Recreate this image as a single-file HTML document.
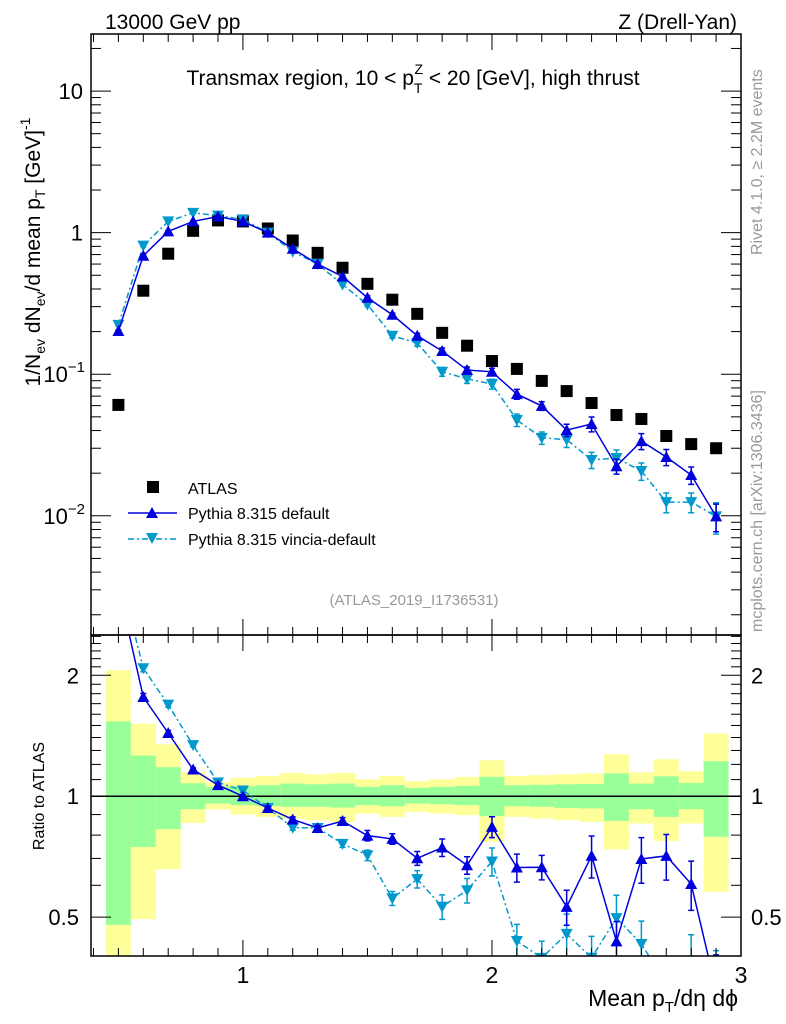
<!DOCTYPE html>
<html><head><meta charset="utf-8"><style>
body{margin:0;background:#fff}
svg{display:block;font-family:"Liberation Sans",Arial,sans-serif}
</style></head><body>
<svg id="chart" width="786" height="1024" viewBox="0 0 786 1024">
<rect x="0" y="0" width="786" height="1024" fill="#fff"/>
<g id="ratioBands"></g>
<g id="marks"></g>
<g id="axes"></g>
<text x="105" y="29" font-size="21">13000 GeV pp</text>
<text x="737" y="29" font-size="21" text-anchor="end">Z (Drell-Yan)</text>
<text x="413" y="85" font-size="21" text-anchor="middle">Transmax region, 10 &lt; p<tspan font-size="14" dy="8">T</tspan><tspan font-size="14" dx="-8" dy="-19">Z</tspan><tspan dy="11"> &lt; 20 [GeV], high thrust</tspan></text>
<text transform="translate(762,255) rotate(-90)" font-size="16" fill="#999">Rivet 4.1.0, ≥ 2.2M events</text>
<text transform="translate(762,632) rotate(-90)" font-size="16" fill="#999">mcplots.cern.ch [arXiv:1306.3436]</text>
<text x="414" y="605" font-size="15" fill="#999" text-anchor="middle">(ATLAS_2019_I1736531)</text>
<text transform="translate(40,252) rotate(-90)" font-size="21" text-anchor="middle">1/N<tspan font-size="14" dy="5">ev</tspan><tspan dy="-5"> dN</tspan><tspan font-size="14" dy="5">ev</tspan><tspan dy="-5">/d mean p</tspan><tspan font-size="14" dy="5">T</tspan><tspan dy="-5"> [GeV]</tspan><tspan font-size="14" dy="-10">-1</tspan></text>
<text transform="translate(44,796) rotate(-90)" font-size="16" text-anchor="middle">Ratio to ATLAS</text>
<text x="738" y="1006" font-size="23" text-anchor="end">Mean p<tspan font-size="15" dy="6">T</tspan><tspan dy="-6">/dη dϕ</tspan></text>
<g>
<rect x="147" y="481" width="12" height="12" fill="#000"/>
<text x="188" y="494" font-size="16">ATLAS</text>
<line x1="128" y1="513" x2="177" y2="513" stroke="#0000dd" stroke-width="1.5"/>
<path d="M146,518 L158,518 L152,507 Z" fill="#0000dd"/>
<text x="188" y="519" font-size="16">Pythia 8.315 default</text>
<line x1="128" y1="539" x2="177" y2="539" stroke="#0099cc" stroke-width="1.5" stroke-dasharray="6,3,2,3"/>
<path d="M146,533 L158,533 L152,544 Z" fill="#0099cc"/>
<text x="188" y="545" font-size="16">Pythia 8.315 vincia-default</text>
</g>
</svg>
<script>
const xs = [0.5,0.6,0.7,0.8,0.9,1.0,1.1,1.2,1.3,1.4,1.5,1.6,1.7,1.8,1.9,2.0,2.1,2.2,2.3,2.4,2.5,2.6,2.7,2.8,2.9];
const atlas = [0.0607,0.389,0.71,1.03,1.22,1.2,1.07,0.88,0.72,0.565,0.435,0.336,0.267,0.196,0.159,0.124,0.109,0.0897,0.076,0.0626,0.0515,0.0483,0.0366,0.0321,0.030];
const pyDefault = [0.202,0.687,1.02,1.2,1.3,1.2,1.0,0.77,0.60,0.49,0.347,0.263,0.187,0.146,0.107,0.104,0.0724,0.0597,0.0403,0.0445,0.0224,0.0337,0.026,0.0194,0.0099];
const pyVincia = [0.223,0.81,1.2,1.38,1.32,1.24,1.0,0.735,0.60,0.43,0.31,0.187,0.166,0.104,0.0927,0.0853,0.0475,0.0355,0.0345,0.0248,0.0256,0.0207,0.0125,0.0125,0.0099];
const errDefault = [0.02,0.02,0.015,0.01,0.01,0.01,0.01,0.015,0.015,0.02,0.03,0.03,0.04,0.05,0.05,0.06,0.08,0.07,0.1,0.12,0.12,0.13,0.13,0.14,0.22];
const errVincia = [0.02,0.02,0.015,0.01,0.01,0.01,0.01,0.015,0.015,0.02,0.03,0.04,0.05,0.07,0.07,0.08,0.1,0.1,0.12,0.13,0.14,0.14,0.16,0.16,0.25];
const yellowUp = [2.06,1.516,1.347,1.149,1.085,1.111,1.123,1.143,1.134,1.143,1.102,1.123,1.09,1.102,1.117,1.229,1.123,1.128,1.134,1.139,1.272,1.147,1.236,1.154,1.432];
const greenUp = [1.536,1.262,1.181,1.077,1.055,1.059,1.065,1.075,1.071,1.075,1.055,1.065,1.049,1.055,1.061,1.117,1.065,1.067,1.071,1.073,1.139,1.075,1.121,1.079,1.222];
const greenDn = [0.478,0.747,0.828,0.928,0.959,0.95,0.946,0.941,0.941,0.937,0.95,0.944,0.959,0.955,0.95,0.892,0.944,0.941,0.935,0.932,0.868,0.928,0.888,0.928,0.792];
const yellowDn = [0.35,0.494,0.658,0.858,0.927,0.9,0.888,0.88,0.872,0.863,0.905,0.888,0.914,0.905,0.897,0.77,0.888,0.88,0.872,0.863,0.737,0.855,0.773,0.855,0.578];
const mainTicks = [0.01,0.1,1,10];
const mainTickLabels = ["10","10","1","10"];
const mainTickExp = ["−2","−1","",""];
const ratioTicks = [0.5,1,2];
const ratioTickLabels = ["0.5","1","2"];
const xTicks = [1,2,3];
const xTickLabels = ["1","2","3"];

const NS="http://www.w3.org/2000/svg";
const L=91,R=741,T=34,M=635,B=956;
const X0=0.39,X1=3.0;
const YT=Math.log10(25.3),YB=-2.842;
const RT=Math.log2(2.52),RB=Math.log2(0.40);
const sx=v=>L+(v-X0)/(X1-X0)*(R-L);
const sy=v=>T+(YT-Math.log10(v))/(YT-YB)*(M-T);
const sr=v=>M+(RT-Math.log2(v))/(RT-RB)*(B-M);
function mk(tag,attrs,parent){const e=document.createElementNS(NS,tag);for(const k in attrs)e.setAttribute(k,attrs[k]);parent.appendChild(e);return e;}
const marks=document.getElementById('marks'),axes=document.getElementById('axes'),bands=document.getElementById('ratioBands');

const hw=0.05;
for(let i=0;i<xs.length;i++){
  const x1=sx(xs[i]-hw),x2=sx(xs[i]+hw);
  const cl=v=>Math.min(B,Math.max(M,sr(v)));
  let r=mk('rect',{x:x1,y:cl(yellowUp[i]),width:x2-x1,height:cl(yellowDn[i])-cl(yellowUp[i]),fill:'#ffff99'},bands);
  
  
  r=mk('rect',{x:x1,y:cl(greenUp[i]),width:x2-x1,height:cl(greenDn[i])-cl(greenUp[i]),fill:'#99ff99'},bands);
  
  
}
let ln=mk('line',{x1:L,y1:sr(1),x2:R,y2:sr(1),stroke:'#000','stroke-width':1.5},bands);



const defs=mk('defs',{},document.getElementById('chart'));
const c1=mk('clipPath',{id:'cm'},defs);mk('rect',{x:L,y:T,width:R-L,height:M-T},c1);
const c2=mk('clipPath',{id:'cr'},defs);mk('rect',{x:L,y:M,width:R-L,height:B-M},c2);
const gm=mk('g',{'clip-path':'url(#cm)'},marks);


const gr=mk('g',{'clip-path':'url(#cr)'},marks);



function series(g,vals,errs,yf,color,dash,up,name){
  const pts=xs.map((x,i)=>sx(x)+','+yf(vals[i])).join(' ');
  const pl=mk('polyline',{points:pts,fill:'none',stroke:color,'stroke-width':1.5},g);
  if(dash)pl.setAttribute('stroke-dasharray',dash);
  
  
  xs.forEach((x,i)=>{
    const cx=sx(x),cy=yf(vals[i]);
    const e1=yf(vals[i]*(1+errs[i])),e2=yf(vals[i]*(1-errs[i]));
    const eb=mk('path',{d:`M${cx},${e1}V${e2}M${cx-3},${e1}H${cx+3}M${cx-3},${e2}H${cx+3}`,stroke:color,'stroke-width':1.5,fill:'none'},g);
    
    
    const d=up?`M${cx-6},${cy+5}L${cx+6},${cy+5}L${cx},${cy-6}Z`:`M${cx-6},${cy-5}L${cx+6},${cy-5}L${cx},${cy+6}Z`;
    const p=mk('path',{d:d,fill:color},g);
    
    
  });
}
xs.forEach((x,i)=>{
  const r=mk('rect',{x:sx(x)-6,y:sy(atlas[i])-6,width:12,height:12,fill:'#000'},gm);
  
  
});
series(gm,pyVincia,errVincia,sy,'#0099cc','6,3,2,3',false,'vincia');
series(gm,pyDefault,errDefault,sy,'#0000dd',null,true,'default');
const rV=pyVincia.map((v,i)=>v/atlas[i]),rD=pyDefault.map((v,i)=>v/atlas[i]);
series(gr,rV,errVincia,sr,'#0099cc','6,3,2,3',false,'vincia-ratio');
series(gr,rD,errDefault,sr,'#0000dd',null,true,'default-ratio');

[[T,M],[M,B]].forEach(([a,b])=>{
  const f=mk('rect',{x:L,y:a,width:R-L,height:b-a,fill:'none',stroke:'#000','stroke-width':1.5},axes);
  
  
});
function tick(x1,y1,x2,y2){const t=mk('line',{x1,y1,x2,y2,stroke:'#000','stroke-width':1},axes);}
for(let k=4;k<=30;k++){
  const v=k/10,x=sx(v),maj=(k%10===0),len=maj?16:8;
  tick(x,T,x,T+len);tick(x,M,x,M-len);tick(x,M,x,M+len);tick(x,B,x,B-len);
}
xTicks.forEach((v,i)=>{const t=mk('text',{x:sx(v),y:B+27,'font-size':23,'text-anchor':'middle'},axes);t.textContent=xTickLabels[i];});
for(let e=-3;e<=1;e++)for(let m=1;m<=9;m++){
  const v=m*Math.pow(10,e);if(v<Math.pow(10,YB)||v>Math.pow(10,YT))continue;
  const y=sy(v),len=m===1?20:10;tick(L,y,L+len,y);tick(R,y,R-len,y);
}
mainTicks.forEach((v,i)=>{
  const t=mk('text',{x:L-8,y:sy(v)+8,'font-size':22,'text-anchor':'end'},axes);
  if(mainTickExp[i]){t.innerHTML=mainTickLabels[i]+'<tspan font-size="15" dy="-10">'+mainTickExp[i]+'</tspan>';t.setAttribute('x',L-6);}
  else t.textContent=mainTickLabels[i];
  
  
});
for(let k=4;k<=25;k++){const v=k/10;if(v<0.4||v>2.52)continue;const y=sr(v);const maj=(k===5||k===10||k===20);const len=maj?20:10;tick(L,y,L+len,y);tick(R,y,R-len,y);}
ratioTicks.forEach((v,i)=>{
  let t=mk('text',{x:L-12,y:sr(v)+8,'font-size':22,'text-anchor':'end'},axes);t.textContent=ratioTickLabels[i];
  
  
  t=mk('text',{x:R+10,y:sr(v)+8,'font-size':22},axes);t.textContent=ratioTickLabels[i];
  
  
});
</script>
</body></html>
